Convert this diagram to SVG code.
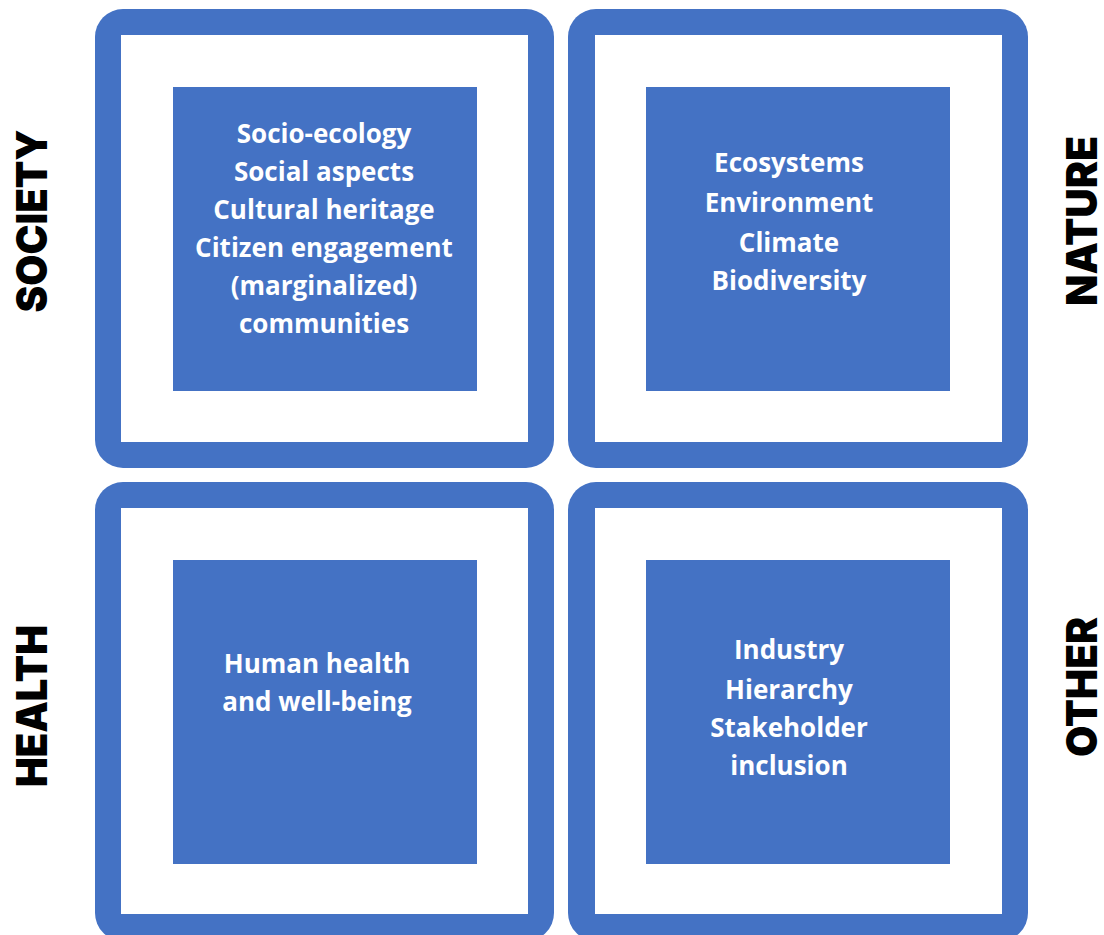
<svg xmlns="http://www.w3.org/2000/svg" width="1104" height="935" viewBox="0 0 1104 935">
<style>
.outer{fill:#4472C4}
.inner{fill:#fff}
.sq{fill:#4472C4}
.t{font-family:"Open Sans","Liberation Sans",sans-serif;font-weight:700;font-size:26px;fill:#fff;text-anchor:middle}
.side{font-family:"Inter","Liberation Sans",sans-serif;font-weight:900;font-size:43px;fill:#000;text-anchor:middle}
</style>
<rect width="1104" height="935" fill="#fff"/>
<g id="society">
<rect class="outer" x="95" y="9" width="459" height="459" rx="28"/>
<rect class="inner" x="121" y="35" width="407" height="407"/>
<rect class="sq" x="173" y="87" width="304" height="304"/>
<text class="t"><tspan x="324" y="143">Socio-ecology</tspan><tspan x="324" y="181">Social aspects</tspan><tspan x="324" y="219">Cultural heritage</tspan><tspan x="324" y="257">Citizen engagement</tspan><tspan x="324" y="295">(marginalized)</tspan><tspan x="324" y="333">communities</tspan></text>
<text class="side" transform="translate(47,221) rotate(-90)" textLength="183" lengthAdjust="spacingAndGlyphs">SOCIETY</text>
</g>
<g id="nature">
<rect class="outer" x="568" y="9" width="460" height="459" rx="28"/>
<rect class="inner" x="595" y="35" width="407" height="407"/>
<rect class="sq" x="646" y="87" width="304" height="304"/>
<text class="t"><tspan x="789" y="172">Ecosystems</tspan><tspan x="789" y="212">Environment</tspan><tspan x="789" y="252">Climate</tspan><tspan x="789" y="290">Biodiversity</tspan></text>
<text class="side" transform="translate(1097,221) rotate(-90)" textLength="170" lengthAdjust="spacingAndGlyphs">NATURE</text>
</g>
<g id="health">
<rect class="outer" x="95" y="482" width="459" height="459" rx="28"/>
<rect class="inner" x="121" y="508" width="407" height="406"/>
<rect class="sq" x="173" y="560" width="304" height="304"/>
<text class="t"><tspan x="317" y="673">Human health</tspan><tspan x="317" y="711">and well-being</tspan></text>
<text class="side" transform="translate(47,706) rotate(-90)" textLength="162" lengthAdjust="spacingAndGlyphs">HEALTH</text>
</g>
<g id="other">
<rect class="outer" x="568" y="482" width="460" height="459" rx="28"/>
<rect class="inner" x="595" y="508" width="407" height="406"/>
<rect class="sq" x="646" y="560" width="304" height="304"/>
<text class="t"><tspan x="789" y="659">Industry</tspan><tspan x="789" y="699">Hierarchy</tspan><tspan x="789" y="737">Stakeholder</tspan><tspan x="789" y="775">inclusion</tspan></text>
<text class="side" transform="translate(1097,687) rotate(-90)" textLength="140" lengthAdjust="spacingAndGlyphs">OTHER</text>
</g>
<g id="connectors"></g>
</svg>
